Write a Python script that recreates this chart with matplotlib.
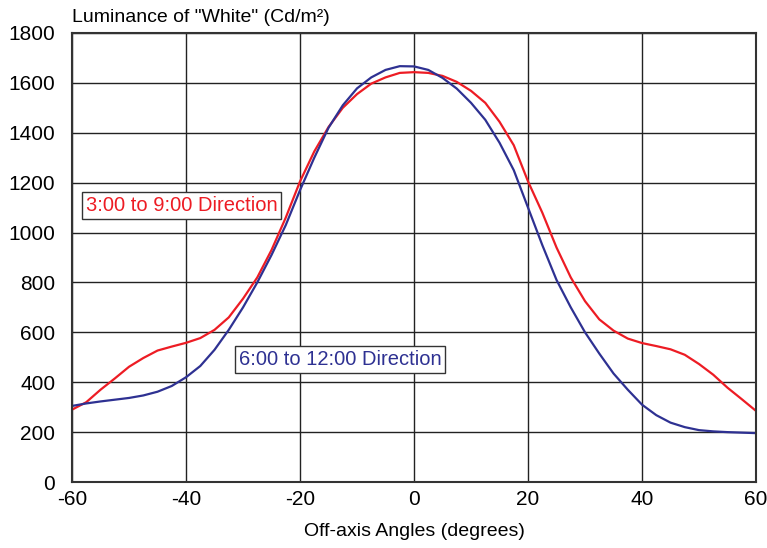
import numpy as np
import matplotlib.pyplot as plt

plt.rcParams["font.family"] = ["Liberation Sans", "DejaVu Sans"]
plt.rcParams["axes.unicode_minus"] = False

# off-axis angle in degrees, every 2.5 deg
angles = np.arange(-60, 60.1, 2.5)

# luminance of "white" in Cd/m2
horizontal_3_9 = [
    290, 320, 370, 415, 462, 497, 527, 543, 558, 577,
    610, 660, 735, 820, 930, 1060, 1205, 1325, 1423, 1500,
    1555, 1597, 1622, 1640, 1643, 1640, 1628, 1604, 1568, 1520,
    1444, 1350, 1205, 1080, 940, 820, 725, 652, 607, 575,
    557, 545, 532, 510, 473, 430, 378, 332, 285,
]
vertical_6_12 = [
    305, 315, 323, 330, 337, 347, 362, 385, 420, 465,
    530, 610, 700, 800, 910, 1030, 1170, 1300, 1420, 1510,
    1578, 1622, 1652, 1667, 1666, 1652, 1620, 1577, 1520, 1452,
    1360, 1250, 1100, 950, 810, 700, 600, 515, 435, 370,
    310, 268, 238, 220, 208, 203, 200, 198, 196,
]

RED = "#ed1c24"
BLUE = "#2e3192"

fig = plt.figure(figsize=(7.67, 5.48), dpi=100)
ax = fig.add_axes([0.0939, 0.1204, 0.8918, 0.8194])

ax.plot(angles, horizontal_3_9, color=RED, lw=1.6)
ax.plot(angles, vertical_6_12, color=BLUE, lw=1.6)

ax.set_xlim(-60, 60)
ax.set_ylim(0, 1800)
ax.set_xticks(np.arange(-60, 61, 20))
ax.set_yticks(np.arange(0, 1801, 200))
ax.grid(True, color="#222222", lw=1.0)
ax.set_axisbelow(True)
ax.tick_params(length=0, labelsize=15)
ax.tick_params(axis="y", pad=12)
ax.tick_params(axis="x", pad=6)
for s in ax.spines.values():
    s.set_color("#333333")
    s.set_linewidth(1.5)

ax.set_xlabel("Off-axis Angles (degrees)", fontsize=14, labelpad=10)
fig.text(0.0939, 0.968, 'Luminance of "White" (Cd/m²)', fontsize=14,
         ha="left", va="center")

box = dict(boxstyle="square,pad=0.2", facecolor="white", edgecolor="#333333", lw=1)
ax.text(0.160, 0.616, "3:00 to 9:00 Direction", transform=ax.transAxes,
        color=RED, fontsize=14.5, ha="center", va="center", bbox=box)
ax.text(0.392, 0.272, "6:00 to 12:00 Direction", transform=ax.transAxes,
        color=BLUE, fontsize=14.5, ha="center", va="center", bbox=box)

fig.savefig("out.png", dpi=100)
